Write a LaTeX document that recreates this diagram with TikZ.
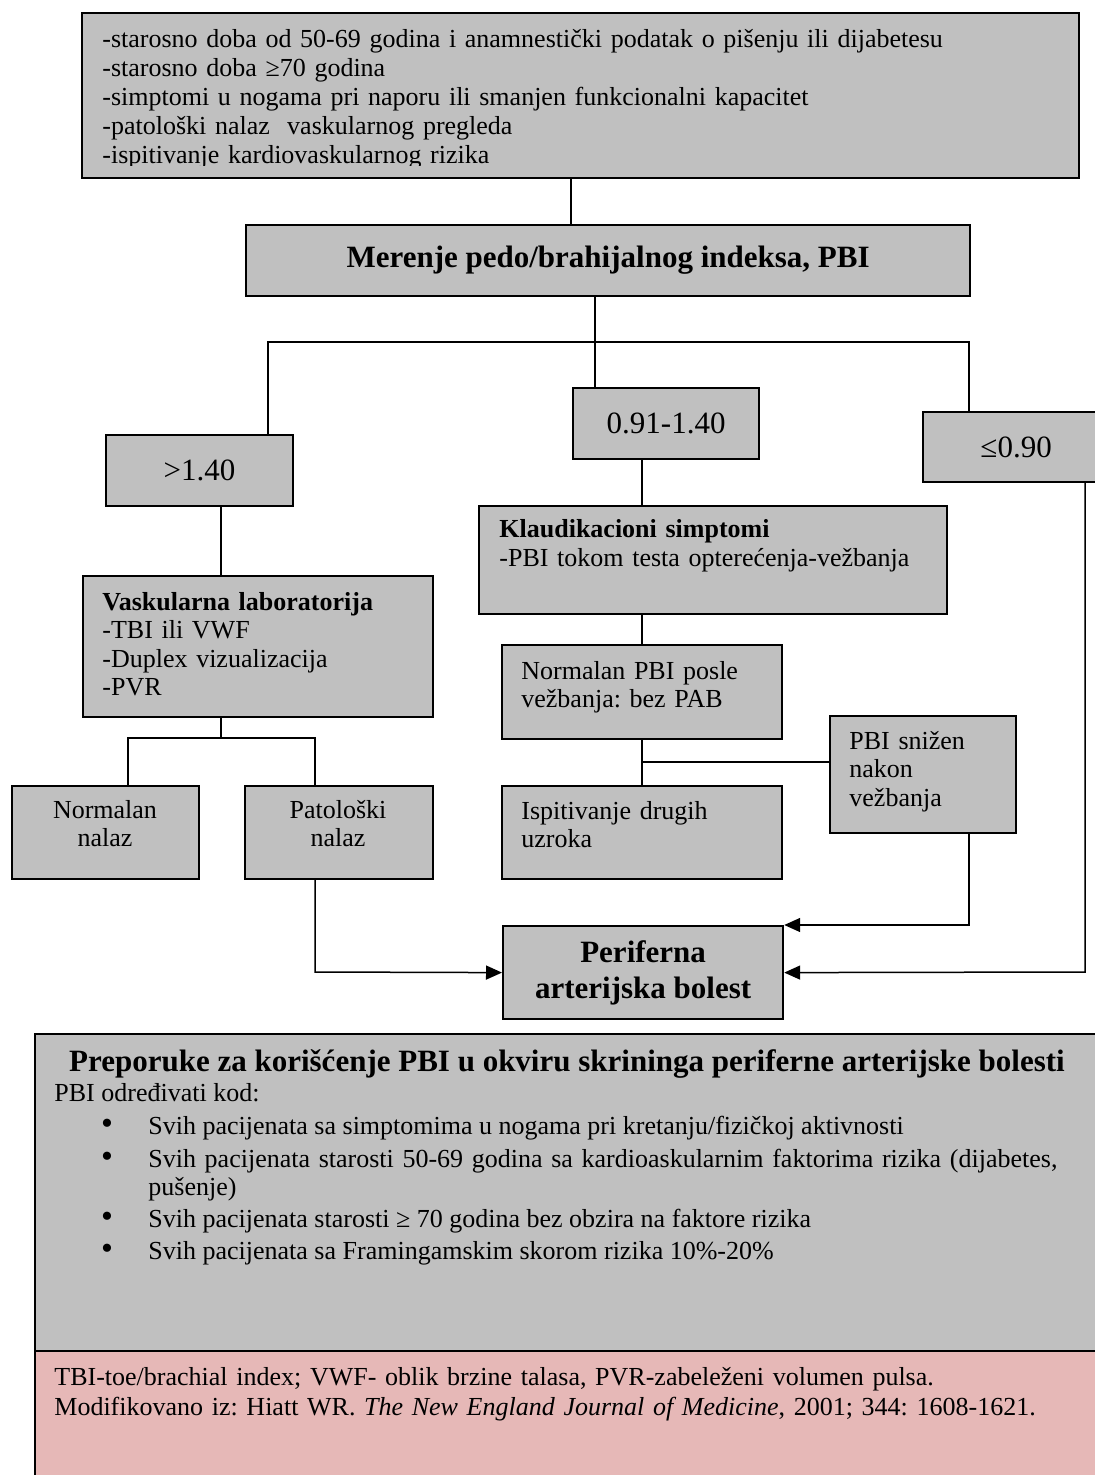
\documentclass[tikz,border=0pt]{standalone}
\usepackage{fontspec}
\setmainfont{Liberation Serif}
\usepackage{xcolor}
\usepackage{tikz}
\usetikzlibrary{arrows.meta}
\frenchspacing
\definecolor{boxgray}{HTML}{C0C0C0}
\definecolor{refpink}{HTML}{E6B8B7}
\tikzset{
  box/.style={draw=black,line width=1.1pt,fill=boxgray,inner sep=0pt,anchor=north west,align=center},
  txt/.style={inner sep=0pt,anchor=base west,align=left,font=\fontsize{13}{14.3}\selectfont},
  big/.style={font=\fontsize{15.5}{18}\selectfont\bfseries},
  num/.style={font=\fontsize{15.5}{18}\selectfont},
  ln/.style={line width=0.75pt},
  arr/.style={line width=0.75pt,-{Triangle[length=8pt,width=7pt]}}
}
\begin{document}
\begin{tikzpicture}[x=0.5pt,y=-0.5pt]
\path[use as bounding box] (0,0) rectangle (1095,1475);
\clip (0,0) rectangle (1095,1475);
% upper part
\node[box,minimum width=498.5pt,minimum height=82.5pt] (top) at (81,12) {};
\begin{scope}
\clip (81,12) rectangle (1078,166);
\node[txt,text width=480pt,font=\fontsize{13}{14.4}\selectfont] (topT) at (102,48) {-starosno doba od 50-69 godina i anamnestički podatak o pišenju ili dijabetesu\\-starosno doba ≥70 godina\\-simptomi u nogama pri naporu ili smanjen funkcionalni kapacitet\\-patološki nalaz\ \ vaskularnog pregleda\\-ispitivanje kardiovaskularnog rizika};
\end{scope}
\node[box,big,minimum width=362pt,minimum height=35.5pt] (pbi) at (245,224) {Merenje pedo/brahijalnog indeksa, PBI};
\node[box,num,minimum width=93.5pt,minimum height=35.5pt] (gt) at (105,434) {>1.40};
\node[box,num,minimum width=93pt,minimum height=35.5pt] (mid) at (572,387) {0.91-1.40};
\node[box,num,minimum width=93pt,minimum height=35pt] (le) at (922,411) {≤0.90};
\node[box,minimum width=175pt,minimum height=70.5pt] (vask) at (82,575) {};
\node[txt,text width=165pt] (vaskT) at (102,610) {\textbf{Vaskularna laboratorija}\\-TBI ili VWF\\-Duplex vizualizacija\\-PVR};
\node[box,minimum width=234pt,minimum height=54pt] (klaud) at (478,505) {};
\node[txt,text width=225pt] (klaudT) at (499,538) {\textbf{Klaudikacioni simptomi}\\-PBI tokom testa opterećenja-vežbanja};
\node[box,minimum width=93.5pt,minimum height=46.5pt] (norm) at (11,785) {};
\node[txt,anchor=base,align=center,text width=90pt] (normT) at (105,818) {Normalan\\nalaz};
\node[box,minimum width=94pt,minimum height=46.5pt] (pat) at (244,785) {};
\node[txt,anchor=base,align=center,text width=90pt] (patT) at (338,818) {Patološki\\nalaz};
\node[box,minimum width=140pt,minimum height=47pt] (npbi) at (501,644) {};
\node[txt,text width=130pt] (npbiT) at (521,679) {Normalan PBI posle\\vežbanja: bez PAB};
\node[box,minimum width=140pt,minimum height=46.5pt] (isp) at (501,785) {};
\node[txt,text width=130pt] (ispT) at (521,819) {Ispitivanje drugih\\uzroka};
\node[box,minimum width=93pt,minimum height=58.5pt] (sniz) at (829,715) {};
\node[txt,text width=85pt] (snizT) at (849,749) {PBI snižen\\nakon\\vežbanja};
\node[box,big,minimum width=140pt,minimum height=46.5pt] (pab) at (502,925) {Periferna\\arterijska bolest};
% connectors
\coordinate (t1) at (571,200);
\draw[ln] (top.south -| t1) -- (pbi.north -| t1);
\coordinate (split) at (595,342);
\coordinate (sL) at (268,342); \coordinate (sR) at (969,342);
\draw[ln] (pbi.south -| split) -- (mid.north -| split);
\draw[ln] (gt.north -| sL) -- (sL) -- (sR) -- (le.north -| sR);
\coordinate (v1) at (221,540);
\draw[ln] (gt.south -| v1) -- (vask.north -| v1);
\coordinate (b0) at (221,738); \coordinate (bL) at (128,738); \coordinate (bR) at (315,738);
\draw[ln] (vask.south -| b0) -- (b0);
\draw[ln] (norm.north -| bL) -- (bL) -- (bR) -- (pat.north -| bR);
\coordinate (k1) at (642,480);
\draw[ln] (mid.south -| k1) -- (klaud.north -| k1);
\draw[ln] (klaud.south -| k1) -- (npbi.north -| k1);
\draw[ln] (npbi.south -| k1) -- (isp.north -| k1);
\coordinate (k2) at (642,762);
\draw[ln] (k2) -- (sniz.west |- k2);
\coordinate (a1) at (969,925); \coordinate (a2) at (1085,972); \coordinate (a3) at (315,972);
\draw[arr] (sniz.south -| a1) -- (a1) -- (pab.north east);
\draw[arr] (le.south -| a2) -- (a2) -- (pab.east);
\draw[arr] (pat.south -| a3) -- (a3) -- (pab.west);
% recommendations
\node[box,minimum width=538pt,minimum height=158.5pt] (prep) at (34,1033) {};
\node[box,fill=refpink,minimum width=538pt,minimum height=70pt] (ref) at (34,1350) {};
\node[txt,big,anchor=base] (prepT) at (567,1071) {Preporuke za korišćenje PBI u okviru skrininga periferne arterijske bolesti};
\node[txt] (kod) at (54,1101) {PBI određivati kod:};
\foreach \yy in {1134,1167,1227,1259}
  \node[txt,anchor=base,font=\fontsize{17}{17}\selectfont] (dot\yy) at (107,\yy) {•};
\node[txt] (it1) at (148,1134) {Svih pacijenata sa simptomima u nogama pri kretanju/fizičkoj aktivnosti};
\node[txt,text width=466pt] (it2) at (148,1167) {\makebox[\linewidth][s]{Svih pacijenata starosti 50-69 godina sa kardioaskularnim faktorima rizika (dijabetes,}\\pušenje)};
\node[txt] (it3) at (148,1227) {Svih pacijenata starosti ≥ 70 godina bez obzira na faktore rizika};
\node[txt] (it4) at (148,1259) {Svih pacijenata sa Framingamskim skorom rizika 10\%-20\%};
\node[txt,text width=520pt,font=\fontsize{13}{15}\selectfont] (refT) at (54,1385) {TBI-toe/brachial index; VWF- oblik brzine talasa, PVR-zabeleženi volumen pulsa.\\Modifikovano iz: Hiatt WR. \textit{The New England Journal of Medicine}, 2001; 344: 1608-1621.};
\end{tikzpicture}
\end{document}
